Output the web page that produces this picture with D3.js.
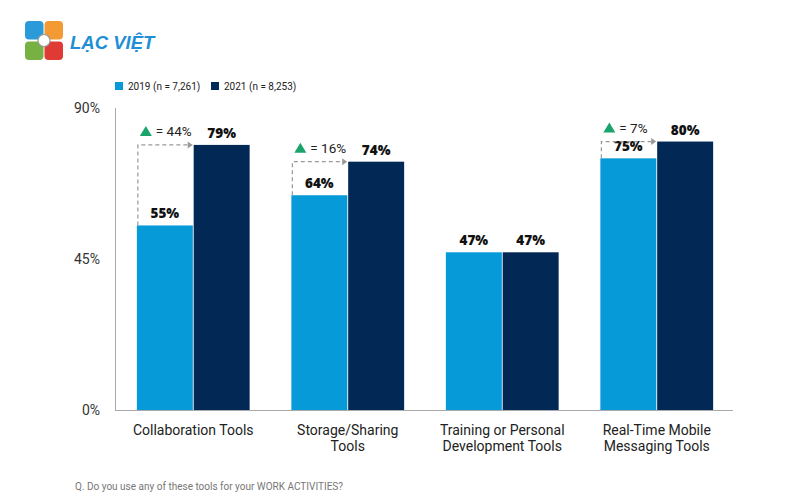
<!DOCTYPE html>
<html><head><meta charset="utf-8">
<script src="https://cdn.jsdelivr.net/npm/d3@7"></script>
<style>body{margin:0;background:#fff}svg{display:block}</style>
</head><body>
<svg id="c" width="800" height="500"></svg>
<script>
const categories = [["Collaboration Tools"],["Storage/Sharing","Tools"],["Training or Personal","Development Tools"],["Real-Time Mobile","Messaging Tools"]];
const series = ["2019 (n = 7,261)","2021 (n = 8,253)"];
const values2019 = [55,64,47,75];
const values2021 = [79,74,47,80];
const deltas = ["44%","16%",null,"7%"];
const yTicks = [0,45,90];

const colors = ["#069bd8","#022856"];
const svg = d3.select("#c");
const font = "Roboto, 'Liberation Sans', Arial, sans-serif";

// logo
const logo = svg.append("g");
logo.append("rect").attr("x",25).attr("y",21).attr("width",18.5).attr("height",18.5).attr("rx",4).attr("fill","#2a9ad8");
logo.append("rect").attr("x",44.5).attr("y",21).attr("width",18.5).attr("height",18.5).attr("rx",4).attr("fill","#f39a34");
logo.append("rect").attr("x",25).attr("y",41.5).attr("width",18.5).attr("height",18.5).attr("rx",4).attr("fill","#77b043");
logo.append("rect").attr("x",44.5).attr("y",41.5).attr("width",18.5).attr("height",18.5).attr("rx",4).attr("fill","#e03a35");
logo.append("circle").attr("cx",44).attr("cy",40.5).attr("r",6).attr("fill","#fff").attr("stroke","#999").attr("stroke-width",1.2);
logo.append("text").attr("x",70).attr("y",48.5).text("LẠC VIỆT")
  .attr("font-family","'Liberation Sans', Arial, sans-serif").attr("font-weight","bold").attr("font-style","italic")
  .attr("font-size",18.5).attr("fill","#1e8fd6");

const x0 = d3.scaleBand().domain(d3.range(categories.length)).range([116,734]).paddingInner(0.27).paddingOuter(0.135);
const x1 = d3.scaleBand().domain([0,1]).range([0,x0.bandwidth()]).paddingInner(0.015);
const y = d3.scaleLinear().domain([0,90]).range([410,108]);

// axes lines
svg.append("line").attr("x1",115.5).attr("x2",115.5).attr("y1",y(90)).attr("y2",y(0)).attr("stroke","#aaa").attr("stroke-width",1);
svg.append("line").attr("x1",115).attr("x2",733).attr("y1",y(0)+0.5).attr("y2",y(0)+0.5).attr("stroke","#aaa").attr("stroke-width",1);

svg.selectAll(".yt").data(yTicks).enter().append("text")
  .attr("x",100).attr("y",d=>y(d)+5).attr("text-anchor","end")
  .attr("font-family",font).attr("font-size",14).attr("fill","#333").text(d=>d+"%");

// legend
const lg = svg.append("g");
series.forEach((s,i)=>{
  const lx = [115,211][i];
  lg.append("rect").attr("x",lx).attr("y",82).attr("width",8).attr("height",8).attr("fill",colors[i]);
  lg.append("text").attr("x",lx+13).attr("y",89.5).attr("font-family",font).attr("font-size",10).attr("fill","#222").text(s);
});

// bars
const data = categories.map((c,i)=>({i,vals:[values2019[i],values2021[i]]}));
const g = svg.selectAll(".grp").data(data).enter().append("g").attr("transform",d=>`translate(${x0(d.i)},0)`);
g.selectAll("rect").data(d=>d.vals.map((v,k)=>({v,k}))).enter().append("rect")
  .attr("x",d=>x1(d.k)).attr("width",x1.bandwidth()).attr("y",d=>y(d.v)).attr("height",d=>y(0)-y(d.v))
  .attr("fill",d=>colors[d.k]);
g.selectAll(".vl").data(d=>d.vals.map((v,k)=>({v,k}))).enter().append("text")
  .attr("x",d=>x1(d.k)+x1.bandwidth()/2).attr("y",d=>y(d.v)-7).attr("text-anchor","middle")
  .attr("font-family","'Open Sans', Arial, sans-serif").attr("font-weight","800").attr("font-size",13.5).attr("fill","#111")
  .text(d=>d.v+"%");

// delta brackets
data.forEach(d=>{
  if(!deltas[d.i]) return;
  const gx = x0(d.i);
  const xl = gx + x1(0) + 1;
  const xr = gx + x1(1) - 2;
  const yb = y(d.vals[0]);
  const yt = y(d.vals[1]);
  svg.append("path").attr("d",`M${xl},${yb} L${xl},${yt} L${xr-3},${yt}`)
    .attr("fill","none").attr("stroke","#999").attr("stroke-width",1.2).attr("stroke-dasharray","4,3");
  svg.append("path").attr("d",`M${xr-4},${yt-3.5} L${xr+1},${yt} L${xr-4},${yt+3.5} Z`).attr("fill","#999");
  const tx = gx + 3;
  const ty = yt - 9;
  svg.append("path").attr("d",`M${tx},${ty} L${tx+12},${ty} L${tx+6},${ty-10} Z`).attr("fill","#1aa46b");
  svg.append("text").attr("x",tx+16).attr("y",ty).attr("font-family",font).attr("font-size",13.5).attr("fill","#222")
    .text("= "+deltas[d.i]);
});

// category labels
svg.selectAll(".cat").data(data).enter().append("text")
  .attr("x",d=>x0(d.i)+x0.bandwidth()/2).attr("y",435).attr("text-anchor","middle")
  .attr("font-family",font).attr("font-size",14).attr("fill","#222")
  .each(function(d){
    const t = d3.select(this);
    categories[d.i].forEach((line,k)=>t.append("tspan").attr("x",x0(d.i)+x0.bandwidth()/2).attr("dy",k?16:0).text(line));
  });

svg.append("text").attr("x",75).attr("y",490).attr("font-family",font).attr("font-size",10).attr("fill","#777")
  .text("Q. Do you use any of these tools for your WORK ACTIVITIES?");
</script>
</body></html>
